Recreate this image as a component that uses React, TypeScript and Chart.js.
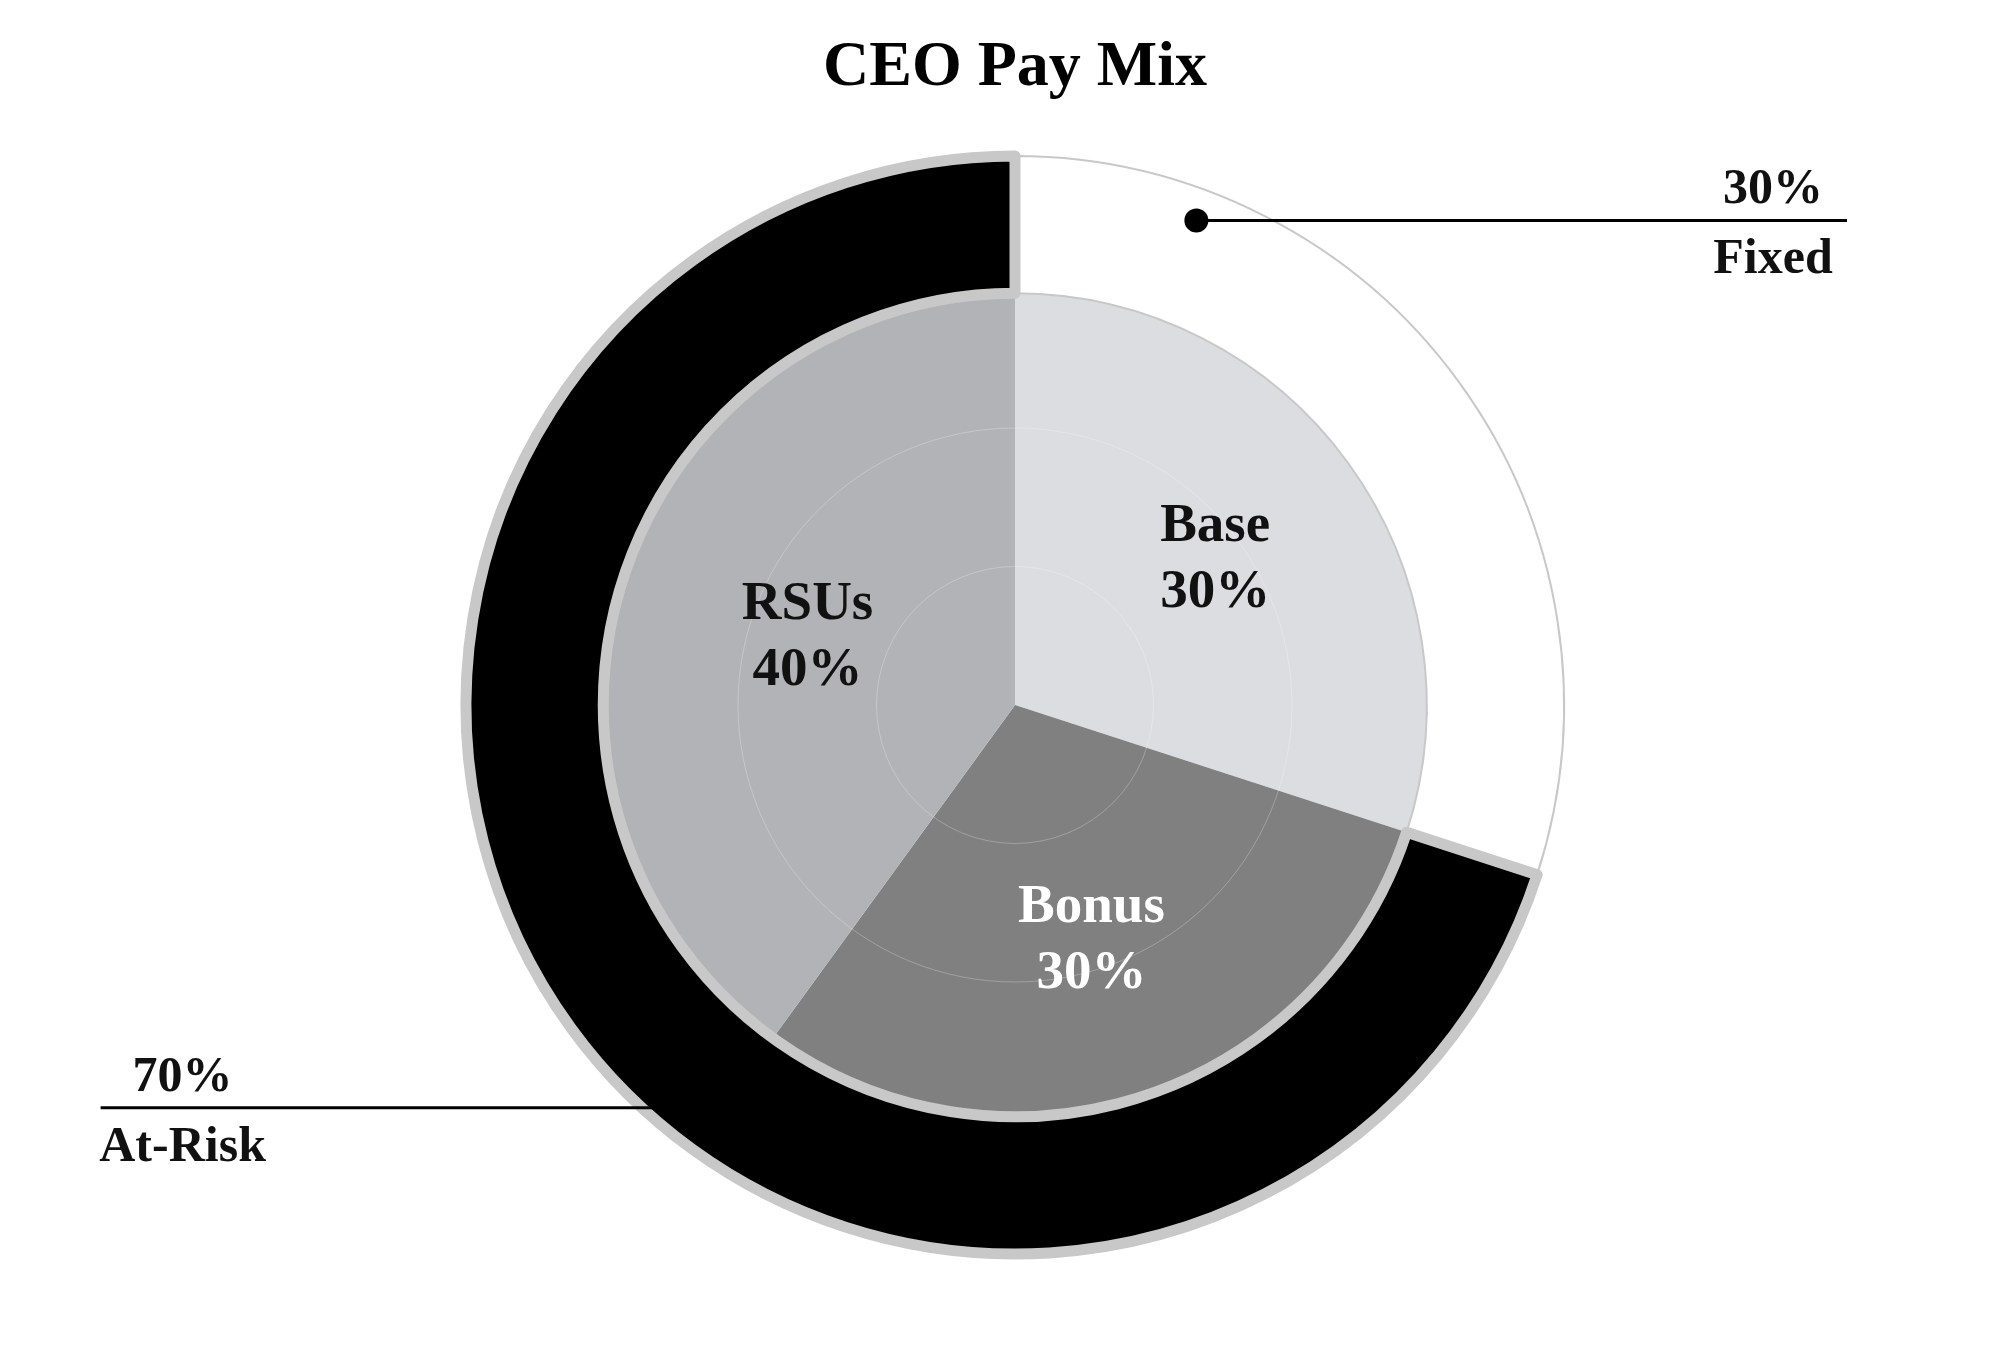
import { useEffect, useRef } from "react";
import { Chart, registerables, type ChartConfiguration, type Plugin } from "chart.js";

Chart.register(...registerables);

// outer ring: fixed vs at-risk pay
const ringLabels = ["Fixed", "At-Risk"];
const ringValues = [30, 70];

// inner pie: pay components
const mixLabels = ["Base", "Bonus", "RSUs"];
const mixValues = [30, 30, 40];

// faint guide circles on the inner pie (radial scale ticks)
const guideTicks = [1, 2];
const guideMax = 4;

const SERIF = "'Liberation Serif', 'Times New Roman', serif";

const ringColors = ["#ffffff", "#000000"];
const ringBorders = [2, 11];
const mixColors = ["#dcdde0", "#808080", "#b2b3b7"];
const mixTextColors = ["#111111", "#ffffff", "#111111"];

// where each ring callout sits inside its arc and how far its leader runs
const callouts = [
  { index: 0, angleFrac: 0.19, radiusFrac: 0.77, edge: 0.918 },
  { index: 1, angleFrac: 0.44, radiusFrac: 0.77, edge: 0.05 },
];

const percent = (values: number[], i: number) => {
  const total = values.reduce((a, b) => a + b, 0);
  return `${Math.round((values[i] / total) * 100)}%`;
};

const sliceLabels: Plugin<"doughnut"> = {
  id: "sliceLabels",
  afterDraw(chart) {
    const { ctx } = chart;
    const meta = chart.getDatasetMeta(1);
    ctx.save();
    ctx.font = `bold 55px ${SERIF}`;
    ctx.textAlign = "center";
    ctx.textBaseline = "middle";
    meta.data.forEach((el, i) => {
      const { x, y, startAngle, endAngle, outerRadius } = (el as any).getProps(
        ["x", "y", "startAngle", "endAngle", "outerRadius"],
        true
      );
      const half = (endAngle - startAngle) / 2;
      const mid = startAngle + half;
      // a bit outside the sector's centroid
      const r = 1.05 * (2 / 3) * outerRadius * (Math.sin(half) / half);
      const lx = x + Math.cos(mid) * r;
      const ly = y + Math.sin(mid) * r;
      ctx.fillStyle = mixTextColors[i];
      ctx.fillText(mixLabels[i], lx, ly - 33);
      ctx.fillText(percent(mixValues, i), lx, ly + 33);
    });
    ctx.restore();
  },
};

const ringCallouts: Plugin<"doughnut"> = {
  id: "ringCallouts",
  afterDraw(chart) {
    const { ctx, width } = chart;
    const meta = chart.getDatasetMeta(0);
    ctx.save();
    callouts.forEach((c) => {
      const el = meta.data[c.index] as any;
      const { x, y, startAngle, endAngle, innerRadius, outerRadius } = el.getProps(
        ["x", "y", "startAngle", "endAngle", "innerRadius", "outerRadius"],
        true
      );
      const a = startAngle + (endAngle - startAngle) * c.angleFrac;
      const r = innerRadius + (outerRadius - innerRadius) * c.radiusFrac;
      const ax = x + Math.cos(a) * r;
      const ay = y + Math.sin(a) * r;
      const ex = width * c.edge;

      ctx.strokeStyle = "#000";
      ctx.lineWidth = 3;
      ctx.beginPath();
      ctx.moveTo(ax, ay);
      ctx.lineTo(ex, ay);
      ctx.stroke();

      ctx.fillStyle = "#000";
      ctx.beginPath();
      ctx.arc(ax, ay, 12, 0, Math.PI * 2);
      ctx.fill();

      const tx = ex > ax ? ex - 74 : ex + 82;
      ctx.fillStyle = "#111";
      ctx.font = `bold 50px ${SERIF}`;
      ctx.textAlign = "center";
      ctx.textBaseline = "middle";
      ctx.fillText(percent(ringValues, c.index), tx, ay - 30);
      ctx.fillText(ringLabels[c.index], tx, ay + 40);
    });
    ctx.restore();
  },
};

export default function App() {
  const canvasRef = useRef<HTMLCanvasElement>(null);
  const chartRef = useRef<Chart<"doughnut", number[], string> | null>(null);

  useEffect(() => {
    const canvas = canvasRef.current;
    if (!canvas) {
      return;
    }

    if (chartRef.current) {
      chartRef.current.destroy();
    }

    const config: ChartConfiguration<"doughnut", number[], string> = {
      type: "doughnut",
      data: {
        datasets: [
          {
            label: "Pay type",
            data: ringValues,
            backgroundColor: ringColors,
            borderColor: "#c8c8c8",
            borderWidth: ringBorders,
            hoverBorderWidth: ringBorders,
            borderJoinStyle: "round",
            hoverOffset: 0,
            weight: 1,
          },
          {
            label: "Components",
            data: mixValues,
            backgroundColor: mixColors,
            borderWidth: 0,
            hoverBorderWidth: 0,
            hoverOffset: 0,
            weight: 3,
          },
        ],
      },
      options: {
        animation: false,
        responsive: true,
        maintainAspectRatio: false,
        events: [],
        cutout: 0,
        layout: {
          padding: { top: 0, left: 40, right: 22, bottom: 89.5 },
        },
        plugins: {
          legend: { display: false },
          tooltip: { enabled: false },
          title: {
            display: true,
            text: "CEO Pay Mix",
            color: "#000",
            font: { family: SERIF, size: 64, weight: "bold" },
            padding: { top: 30, bottom: 43.7 },
          },
        },
        scales: {
          r: {
            type: "radialLinear",
            min: 0,
            max: guideMax,
            ticks: { display: false, stepSize: 1 },
            angleLines: { display: false },
            pointLabels: { display: false },
            grid: {
              circular: true,
              z: 1,
              lineWidth: 1,
              color: (ctx: any) =>
                ctx.tick && guideTicks.includes(ctx.tick.value)
                  ? "rgba(255,255,255,0.25)"
                  : "rgba(0,0,0,0)",
            },
          },
        } as any,
      },
      plugins: [sliceLabels, ringCallouts],
    };

    chartRef.current = new Chart(canvas, config);

    return () => {
      chartRef.current?.destroy();
      chartRef.current = null;
    };
  }, []);

  return (
    <div style={{ position: "fixed", inset: 0, background: "#fff" }}>
      <canvas ref={canvasRef} />
    </div>
  );
}
